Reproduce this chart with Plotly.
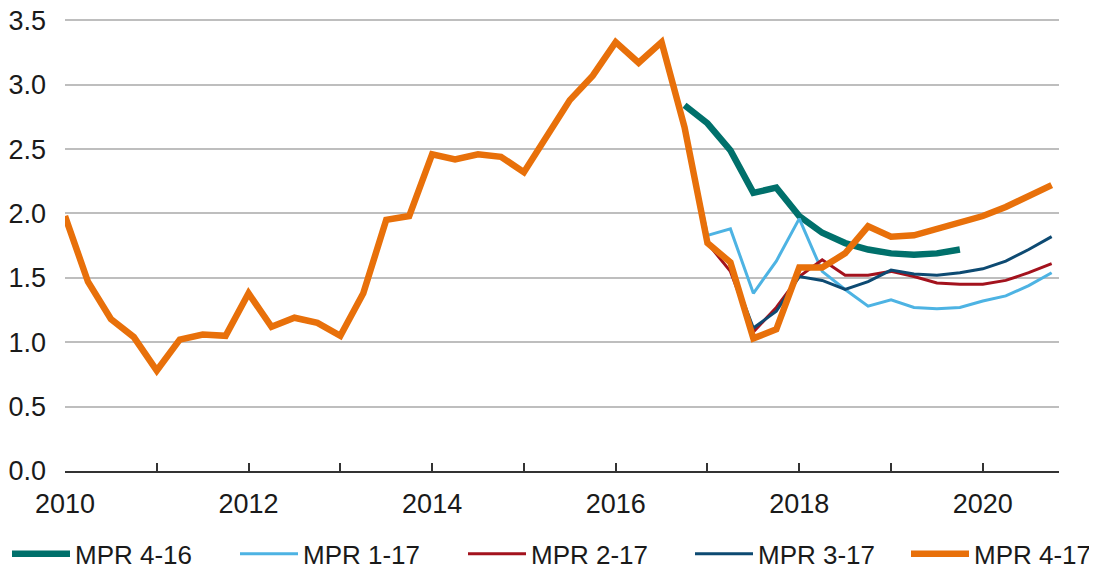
import plotly.graph_objects as go

# Quarterly data, 2010Q1 - 2020Q4
start_year = 2010
mpr_4_17 = [1.98, 1.47, 1.18, 1.04,
            0.78, 1.02, 1.06, 1.05,
            1.38, 1.12, 1.19, 1.15,
            1.05, 1.38, 1.95, 1.98,
            2.46, 2.42, 2.46, 2.44,
            2.32, 2.60, 2.88, 3.07,
            3.33, 3.17, 3.33, 2.67,
            1.77, 1.62, 1.03, 1.10,
            1.58, 1.58, 1.69, 1.90,
            1.82, 1.83, 1.88, 1.92,
            1.98, 2.05, 2.13, 2.22]
# forecasts (start quarter index from 2010Q1)
mpr_4_16_start = 27  # 2016Q4
mpr_4_16 = [2.84, 2.70, 2.49, 2.16, 2.20, 1.98, 1.85, 1.77, 1.72, 1.69, 1.68, 1.69, 1.72]
mpr_1_17_start = 27  # 2016Q4
mpr_1_17 = [2.67, 1.83, 1.88, 1.38, 1.63, 1.96, 1.55, 1.41, 1.28, 1.33, 1.27, 1.26, 1.27,
            1.32, 1.36, 1.44, 1.54]
mpr_2_17_start = 28  # 2017Q1
mpr_2_17 = [1.77, 1.55, 1.08, 1.27, 1.51, 1.64, 1.52, 1.52, 1.55, 1.51, 1.46, 1.45, 1.45,
            1.48, 1.54, 1.61]
mpr_3_17_start = 29  # 2017Q2
mpr_3_17 = [1.58, 1.11, 1.24, 1.51, 1.48, 1.41, 1.47, 1.56, 1.53, 1.52, 1.54, 1.57, 1.63,
            1.72, 1.82]

tick_years = list(range(2010, 2021))
tick_labels = [str(y) if y % 2 == 0 else "" for y in tick_years]
y_ticks = [0.0, 0.5, 1.0, 1.5, 2.0, 2.5, 3.0, 3.5]


def xs(start, n):
    return [start_year + (start + i) / 4 for i in range(n)]


series = [
    ("MPR 4-16", mpr_4_16_start, mpr_4_16, "#00706B", 6.5),
    ("MPR 1-17", mpr_1_17_start, mpr_1_17, "#4DB3E3", 3),
    ("MPR 2-17", mpr_2_17_start, mpr_2_17, "#A3121D", 3),
    ("MPR 3-17", mpr_3_17_start, mpr_3_17, "#0D4A72", 3),
    ("MPR 4-17", 0, mpr_4_17, "#E8700A", 6.5),
]

OFF = 8  # page body margin
# legend slot left edges (page px) for each series
legend_px = [12, 240, 468, 695, 911]
W, H = 1097, 569
YMAX = 3.51
L, T = 65 - OFF, 20 - OFF - 0.01 * 128.7 / 0.5 / 2
R = W - (1059 - OFF)
B = H - (470.7 - OFF)
pw = W - L - R
ph = H - T - B
FS = 27

fig = go.Figure()
font = "Liberation Sans, Arial, sans-serif"
legend_layouts = {}
for i, (name, st, vals, color, w) in enumerate(series):
    lname = "legend" if i == 0 else f"legend{i + 1}"
    fig.add_trace(go.Scatter(x=xs(st, len(vals)), y=vals, mode="lines", name=name,
                             line=dict(color=color, width=w), legend=lname))
    legend_layouts[lname] = dict(
        orientation="h", x=(legend_px[i] - OFF - 5 - L) / pw, xanchor="left",
        y=(H - B - (530 - OFF)) / ph, yanchor="top", itemwidth=58,
        font=dict(family=font, size=26, color="#1a1a1a"),
        bgcolor="rgba(0,0,0,0)")

fig.update_layout(
    width=W, height=H,
    margin=dict(l=L, r=R, t=T, b=B, autoexpand=False),
    paper_bgcolor="white", plot_bgcolor="white",
    font=dict(family=font, size=FS, color="#1a1a1a"),
    showlegend=True,
    xaxis=dict(range=[2010, 2020.83], tickvals=tick_years, ticktext=tick_labels,
               ticks="inside", ticklen=8, tickwidth=1.5, tickcolor="#333",
               showline=True, linecolor="#333", linewidth=1.5,
               showgrid=False, zeroline=False, ticklabelstandoff=8,
               ticklabeloverflow="allow"),
    yaxis=dict(range=[0, YMAX], tickvals=y_ticks, ticktext=[f"{v:.1f}" for v in y_ticks],
               showgrid=True, gridcolor="#BEBEBE", gridwidth=2, zeroline=False,
               ticks="", ticklabelstandoff=18, showline=False,
               ticklabeloverflow="allow"),
    **legend_layouts,
)

fig.write_html("out.html")
